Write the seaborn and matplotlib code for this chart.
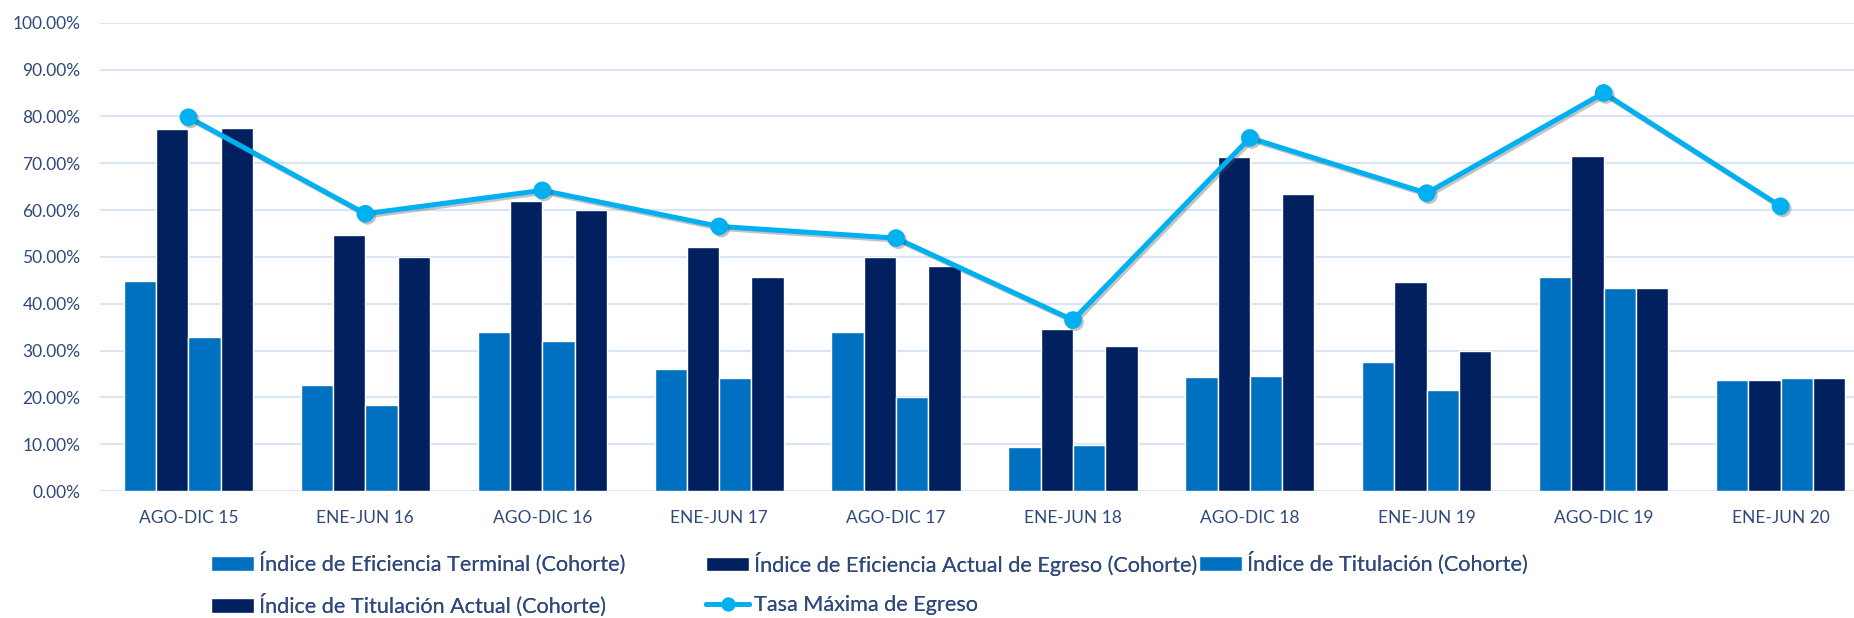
import numpy as np
import pandas as pd
import matplotlib
matplotlib.use("Agg")
import matplotlib.pyplot as plt
import matplotlib.patheffects as pe
from matplotlib.patches import Patch
from matplotlib.lines import Line2D
from matplotlib.ticker import FuncFormatter
import seaborn as sns

# Data (percent)
periods = ["AGO-DIC 15", "ENE-JUN 16", "AGO-DIC 16", "ENE-JUN 17", "AGO-DIC 17",
           "ENE-JUN 18", "AGO-DIC 18", "ENE-JUN 19", "AGO-DIC 19", "ENE-JUN 20"]
ef_terminal = [44.9, 22.6, 34.0, 26.1, 34.0, 9.5, 24.4, 27.5, 45.7, 23.7]
ef_actual = [77.4, 54.6, 62.0, 52.0, 50.0, 34.6, 71.4, 44.6, 71.6, 23.7]
titulacion = [32.9, 18.4, 32.1, 24.1, 20.1, 9.8, 24.6, 21.5, 43.4, 24.1]
tit_actual = [77.6, 49.9, 59.9, 45.7, 48.0, 30.9, 63.4, 29.8, 43.4, 24.1]
tasa_max = [79.8, 59.2, 64.2, 56.5, 54.0, 36.5, 75.4, 63.6, 85.0, 60.8]

series_names = ["Índice de Eficiencia Terminal (Cohorte)",
                "Índice de Eficiencia Actual de Egreso (Cohorte)",
                "Índice de Titulación (Cohorte)",
                "Índice de Titulación Actual (Cohorte)"]
line_name = "Tasa Máxima de Egreso"

LIGHT = "#0070C0"
DARK = "#002060"
CYAN = "#00B0F0"
TEXT = "#2F4A7A"
GRID = "#D9E4F4"

sns.set_theme(style="white")
plt.rcParams["font.family"] = ["Lato", "DejaVu Sans"]

# long format table for seaborn
df = pd.DataFrame({
    "period": periods * 4,
    "series": np.repeat(series_names, len(periods)),
    "value": ef_terminal + ef_actual + titulacion + tit_actual,
})

fig = plt.figure(figsize=(18.54, 6.18), dpi=100)
ax = fig.add_axes([100 / 1854, 1 - 491 / 618, 1769 / 1854, (491 - 22.7) / 618])

sns.barplot(data=df, x="period", y="value", hue="series", hue_order=series_names,
            order=periods, palette=[LIGHT, DARK, LIGHT, DARK], width=0.73,
            saturation=1, legend=False, ax=ax, zorder=2)

sns.pointplot(x=periods, y=tasa_max, order=periods, color=CYAN, markers="o",
              linestyles="-", errorbar=None, ax=ax, markersize=10, linewidth=3.6,
              path_effects=[pe.SimpleLineShadow(offset=(1.5, -1.5), shadow_color="#555555", alpha=0.35),
                            pe.Normal()])

ax.set_ylim(0, 100)
ax.set_xlim(-0.5, len(periods) - 0.5)
ax.set_yticks(np.arange(0, 101, 10))
ax.yaxis.set_major_formatter(FuncFormatter(lambda v, p: f"{v:.2f}%"))
ax.grid(axis="y", color=GRID, linewidth=1.5, zorder=0)
ax.set_axisbelow(True)
for s in ax.spines.values():
    s.set_visible(False)
ax.set_xlabel("")
ax.set_ylabel("")
ax.tick_params(axis="both", length=0, labelsize=12.5, colors=TEXT)
ax.tick_params(axis="y", pad=14)
ax.tick_params(axis="x", pad=14)

# legend: three columns of equal width, laid out row by row
handles = [Patch(facecolor=LIGHT), Patch(facecolor=DARK), Patch(facecolor=LIGHT),
           Patch(facecolor=DARK),
           Line2D([], [], color=CYAN, lw=3.6, marker="o", markersize=9)]
labels = series_names + [line_name]
columns = [[0, 3], [1, 4], [2]]
col_x = [211, 706, 1199]
leg_kw = dict(loc="upper left", frameon=False, fontsize=15.6, labelcolor=TEXT,
              handlelength=2.0, handleheight=0.62, handletextpad=0.23,
              labelspacing=0.87, borderpad=0, borderaxespad=0)
for idx, x in zip(columns, col_x):
    leg = fig.legend([handles[i] for i in idx], [labels[i] for i in idx],
                     bbox_to_anchor=(x / 1854, 1 - 552 / 618), **leg_kw)
    fig.add_artist(leg)

fig.savefig("out.png", dpi=100)
